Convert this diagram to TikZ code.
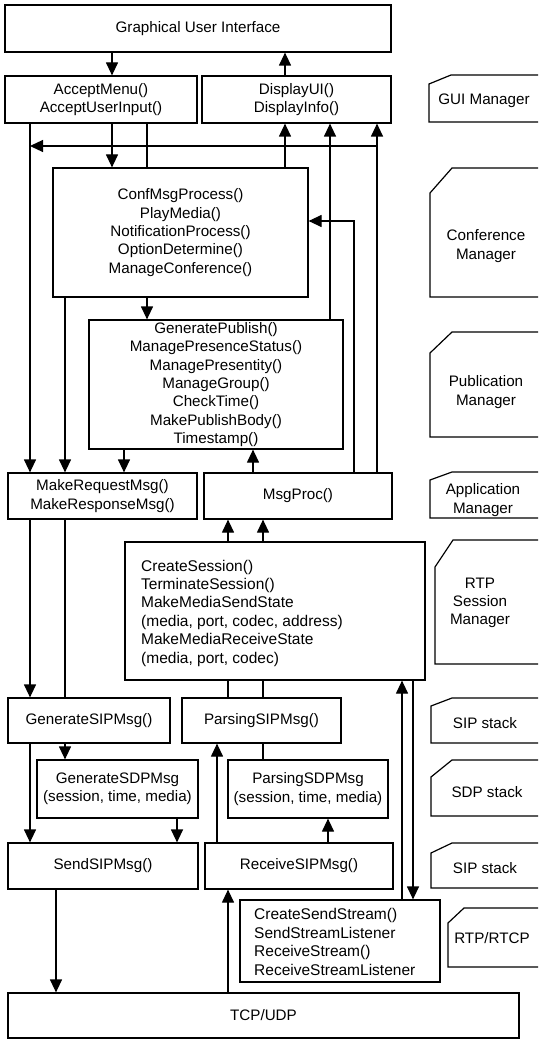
\documentclass[tikz,border=0pt]{standalone}
\usepackage{fontspec}
\setmainfont{Liberation Sans}
\usetikzlibrary{arrows.meta}
\newcommand\myfs{\fontsize{15.2}{18.3}\selectfont}
\newcommand\myfsb{\fontsize{15.5}{18.4}\selectfont}
\newcommand\mytab[5]{\draw[tabline] (538,#2) -- ({#1+#4},#2) -- (#1,{#2+#5}) -- (#1,#3) -- (538,#3);}
\begin{document}
\begin{tikzpicture}[x=1pt,y=-1pt,
  box/.style={draw, line width=1.2pt, inner sep=0pt, align=center, font=\myfs},
  lbox/.style={draw, line width=1.2pt, inner sep=0pt},
  txt/.style={inner sep=0pt, align=left, font=\myfsb},
  lbl/.style={inner sep=0pt, align=center, font=\myfs},
  ln/.style={line width=1.2pt},
  arr/.style={line width=1.2pt, -{Triangle[length=13pt,width=12pt]}},
  tabline/.style={line width=1.2pt}]
\useasboundingbox (0,0) rectangle (538,1040);
% boxes
\node[box, minimum width=386pt, minimum height=47pt] (gui) at (198,28.5) {Graphical User Interface};
\node[box, minimum width=192pt, minimum height=47pt] (accept) at (101,99.5) {AcceptMenu()\\AcceptUserInput()};
\node[box, minimum width=189pt, minimum height=47pt] (display) at (296.5,99.5) {DisplayUI()\\DisplayInfo()};
\node[box, minimum width=255pt, minimum height=129pt] (conf) at (180.5,232.5) {ConfMsgProcess()\\PlayMedia()\\NotificationProcess()\\OptionDetermine()\\ManageConference()};
\node[box, minimum width=254pt, minimum height=129pt] (pub) at (216,384.5) {GeneratePublish()\\ManagePresenceStatus()\\ManagePresentity()\\ManageGroup()\\CheckTime()\\MakePublishBody()\\Timestamp()};
\node[box, minimum width=189pt, minimum height=46pt] (makereq) at (102.5,496) {MakeRequestMsg()\\MakeResponseMsg()};
\node[box, minimum width=188pt, minimum height=46pt] (msgproc) at (298,496) {MsgProc()};
\node[lbox, minimum width=300pt, minimum height=138pt] (rtp) at (275,611) {};
\node[txt, anchor=west] (rtptxt) at (141,613) {CreateSession()\\TerminateSession()\\MakeMediaSendState\\(media, port, codec, address)\\MakeMediaReceiveState\\(media, port, codec)};
\node[box, minimum width=162pt, minimum height=45pt] (gensip) at (89,720.5) {GenerateSIPMsg()};
\node[box, minimum width=159pt, minimum height=45pt] (parsip) at (261.5,720.5) {ParsingSIPMsg()};
\node[box, minimum width=161pt, minimum height=58pt] (gensdp) at (117.5,789) {GenerateSDPMsg\\(session, time, media)};
\node[box, minimum width=160pt, minimum height=58pt] (parsdp) at (308,789) {ParsingSDPMsg\\(session, time, media)};
\node[box, minimum width=190pt, minimum height=46pt] (sendsip) at (103,866) {SendSIPMsg()};
\node[box, minimum width=188pt, minimum height=46pt] (recvsip) at (299,866) {ReceiveSIPMsg()};
\node[lbox, minimum width=200pt, minimum height=82pt] (rtcp) at (340,941) {};
\node[txt, anchor=west] (rtcptxt) at (254,942) {CreateSendStream()\\SendStreamListener\\ReceiveStream()\\ReceiveStreamListener};
\node[box, minimum width=511pt, minimum height=45pt] (tcp) at (263.5,1015.5) {TCP/UDP};
% tabs
\mytab{429}{75}{122}{22}{9}
\mytab{430}{168}{297}{22}{25}
\mytab{430}{332}{437}{22}{21}
\mytab{430}{472}{518}{22}{8}
\mytab{435}{540}{664}{18}{27}
\mytab{431}{698}{743}{21}{8}
\mytab{431}{760}{816}{21}{17}
\mytab{431}{843}{888}{21}{10}
\mytab{448}{908}{967}{16}{15}
\node[lbl] (tgui) at (484,101) {GUI Manager};
\node[lbl] (tconf) at (486,246) {Conference\\Manager};
\node[lbl] (tpub) at (486,392) {Publication\\Manager};
\node[lbl] (tapp) at (483,500) {Application\\Manager};
\node[lbl] (trtp) at (480,603) {RTP\\Session\\Manager};
\node[lbl] (tsip) at (485,723) {SIP stack};
\node[lbl] (tsdp) at (487,792) {SDP stack};
\node[lbl] (tsip2) at (485,868) {SIP stack};
\node[lbl] (trtcp) at (492,938) {RTP/RTCP};
% lanes
\foreach \x in {30,56,65,112,124,147,177,217,228,253,263,285,328,330,354,377,402,413}
  \coordinate (L\x) at (\x,0);
\coordinate (Y221) at (0,221);
\coordinate (J377) at (377,146);
% connectors
\draw[arr] (gui.south -| L112) -- (accept.north -| L112);
\draw[arr] (display.north -| L285) -- (gui.south -| L285);
\draw[arr] (accept.south -| L112) -- (conf.north -| L112);
\draw[ln] (accept.south -| L147) -- (conf.north -| L147);
\draw[arr] (accept.south -| L30) -- (makereq.north -| L30);
\draw[arr] (J377) -- (J377 -| L30);
\draw[arr] (conf.north -| L285) -- (display.south -| L285);
\draw[arr] (pub.north -| L330) -- (display.south -| L330);
\draw[arr] (msgproc.north -| L377) -- (display.south -| L377);
\draw[arr] (msgproc.north -| L354) |- (conf.east |- Y221);
\draw[arr] (conf.south -| L147) -- (pub.north -| L147);
\draw[arr] (conf.south -| L65) -- (makereq.north -| L65);
\draw[arr] (pub.south -| L124) -- (makereq.north -| L124);
\draw[arr] (msgproc.north -| L253) -- (pub.south -| L253);
\draw[arr] (rtp.north -| L228) -- (msgproc.south -| L228);
\draw[arr] (rtp.north -| L263) -- (msgproc.south -| L263);
\draw[arr] (makereq.south -| L30) -- (gensip.north -| L30);
\draw[ln] (makereq.south -| L65) -- (gensip.north -| L65);
\draw[ln] (rtp.south -| L228) -- (parsip.north -| L228);
\draw[ln] (rtp.south -| L263) -- (parsip.north -| L263);
\draw[ln] (parsip.south -| L263) -- (parsdp.north -| L263);
\draw[arr] (rtcp.north -| L402) -- (rtp.south -| L402);
\draw[arr] (rtp.south -| L413) -- (rtcp.north -| L413);
\draw[arr] (gensip.south -| L65) -- (gensdp.north -| L65);
\draw[arr] (gensip.south -| L30) -- (sendsip.north -| L30);
\draw[arr] (gensdp.south -| L177) -- (sendsip.north -| L177);
\draw[arr] (recvsip.north -| L217) -- (parsip.south -| L217);
\draw[arr] (recvsip.north -| L328) -- (parsdp.south -| L328);
\draw[arr] (sendsip.south -| L56) -- (tcp.north -| L56);
\draw[arr] (tcp.north -| L228) -- (recvsip.south -| L228);
\end{tikzpicture}
\end{document}
